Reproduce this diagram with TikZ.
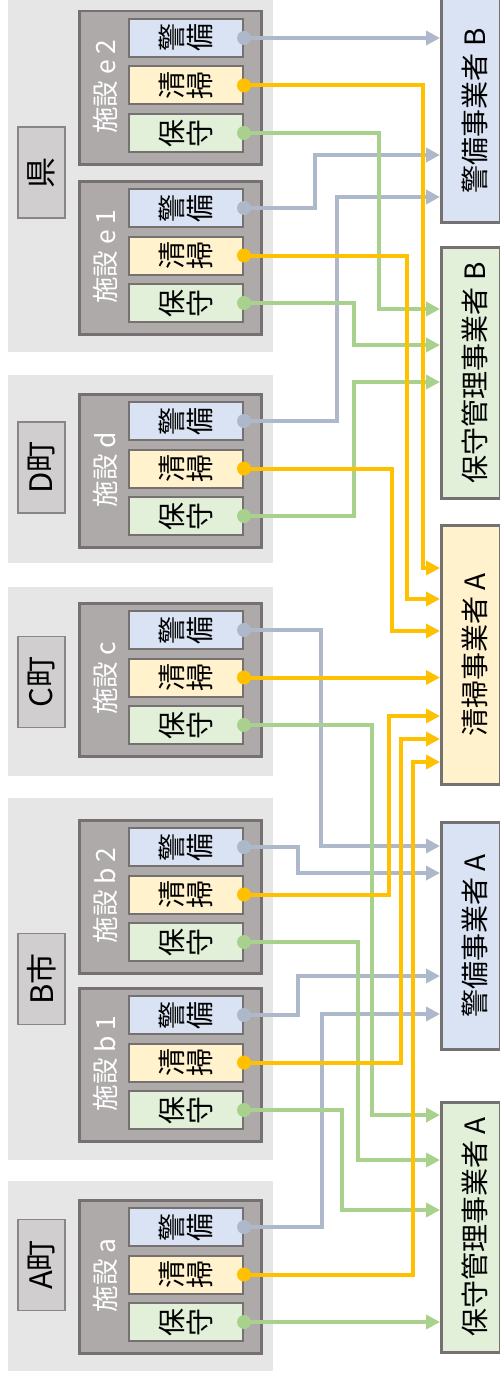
\documentclass[tikz,border=0pt]{standalone}
\usepackage{fontspec}
\setmainfont{Noto Sans CJK JP}
\usepackage{graphicx}
\usetikzlibrary{arrows.meta}
\definecolor{bgG}{HTML}{E7E6E6}
\definecolor{lblG}{HTML}{D0CECE}
\definecolor{facG}{HTML}{AEAAAA}
\definecolor{bordG}{HTML}{767171}
\definecolor{kFill}{HTML}{DAE3F3}
\definecolor{sFill}{HTML}{FFF2CC}
\definecolor{mFill}{HTML}{E2F0D9}
\definecolor{kLine}{HTML}{ADB9CA}
\definecolor{sLine}{HTML}{FFC000}
\definecolor{mLine}{HTML}{A9D18E}
\newcommand\rt[1]{\rotatebox{90}{#1}}
\newcommand\rtt[2]{\rotatebox{90}{\vbox{\baselineskip=28pt\lineskiplimit=-50pt\lineskip=0pt\hbox{#1}\hbox{#2}}}}
\begin{document}
\begin{tikzpicture}[x={(1pt,0)},y={(0,-1pt)},
  grp/.style={fill=bgG,draw=none,inner sep=0,minimum width=265pt,anchor=north west},
  grplbl/.style={draw=bordG!85,fill=lblG,line width=1.8pt,minimum width=47pt,minimum height=91pt,inner sep=0,font=\fontsize{31}{31}\selectfont},
  facbox/.style={draw=bordG,fill=facG,line width=2.5pt,minimum width=182pt,minimum height=153pt,inner sep=0},
  faclbl/.style={text=white,inner sep=0,font=\fontsize{26.5}{26.5}\selectfont},
  svc/.style={draw=bordG,line width=2pt,minimum width=114pt,minimum height=38pt,inner sep=0,font=\fontsize{28}{28}\selectfont},
  prov/.style={draw=bordG,line width=2.5pt,minimum width=59pt,inner sep=0,anchor=north west,font=\fontsize{28}{28}\selectfont},
  arr/.style={line width=4pt,-{Triangle[length=14pt,width=14pt]}},
  kl/.style={arr,draw=kLine},
  sl/.style={arr,draw=sLine},
  ml/.style={arr,draw=mLine}]
\useasboundingbox (0,0) rectangle (500,1378);
\fill[white] (0,0) rectangle (500,1378);
\newcommand\fac[3]{%
 \node[facbox,anchor=north west] (f#1) at (78,#2) {};
 \node[faclbl] (f#1t) at (105,#2+76.5) {\rt{#3}};
 \node[svc,fill=kFill] (#1K) at (186,#2+28) {\rtt{警}{備}};
 \node[svc,fill=sFill] (#1S) at (186,#2+75.5) {\rtt{清}{掃}};
 \node[svc,fill=mFill] (#1M) at (186,#2+123) {\rtt{保}{守}};}
\newcommand\conn[5]{\draw[#1] (#2.east) -| (#3,#4) -- (#5.west |- 0,#4);}
\newcommand\dotat[2]{\fill[#1] (#2.east) circle (7pt);}
\newcommand\pt[1]{\hspace*{8pt}\rt{#1}}
% group backgrounds
\node[grp,minimum height=357pt] (gK) at (8,-5) {};
\node[grp,minimum height=188pt] (gD) at (8,375) {};
\node[grp,minimum height=189pt] (gC) at (8,587) {};
\node[grp,minimum height=362pt] (gB) at (8,798) {};
\node[grp,minimum height=190pt] (gA) at (8,1181) {};
% group labels
\node[grplbl] (lK) at (41.5,172.5) {\rt{県}};
\node[grplbl] (lD) at (41.5,467.5) {\rt{D町}};
\node[grplbl] (lC) at (41.5,682) {\rt{C町}};
\node[grplbl] (lB) at (41.5,979) {\rt{B市}};
\node[grplbl] (lA) at (41.5,1265) {\rt{A町}};
% facilities
\fac{e2}{10}{施設 e 2}
\fac{e1}{180}{施設 e 1}
\fac{d}{393}{施設 d}
\fac{c}{602}{施設 c}
\fac{b2}{819}{施設 b 2}
\fac{b1}{987}{施設 b 1}
\fac{a}{1199}{施設 a}
% providers
\node[prov,fill=kFill,minimum height=223pt] (pKB) at (440,-2) {\pt{警備事業者 B}};
\node[prov,fill=mFill,minimum height=251pt] (pMB) at (440,246) {\pt{保守管理事業者 B}};
\node[prov,fill=sFill,minimum height=259pt] (pSA) at (440,524) {\pt{清掃事業者 A}};
\node[prov,fill=kFill,minimum height=227pt] (pKA) at (440,821) {\pt{警備事業者 A}};
\node[prov,fill=mFill,minimum height=250pt] (pMA) at (440,1101) {\pt{保守管理事業者 A}};
% security connectors
\draw[kl] (e2K.east) -- (pKB.west |- e2K.east);
\conn{kl}{e1K}{315}{155}{pKB}
\conn{kl}{dK}{337}{197}{pKB}
\conn{kl}{cK}{321}{846}{pKA}
\conn{kl}{b2K}{298}{873}{pKA}
\conn{kl}{b1K}{298}{976}{pKA}
\conn{kl}{aK}{322}{1014}{pKA}
% maintenance connectors
\conn{ml}{e2M}{379}{309}{pMB}
\conn{ml}{e1M}{354}{345}{pMB}
\conn{ml}{dM}{354}{382}{pMB}
\conn{ml}{cM}{372}{1115}{pMA}
\conn{ml}{b2M}{358}{1160}{pMA}
\conn{ml}{b1M}{342}{1210}{pMA}
\draw[ml] (aM.east) -- (pMA.west |- aM.east);
% cleaning connectors
\conn{sl}{e2S}{423}{568}{pSA}
\conn{sl}{e1S}{407}{599}{pSA}
\conn{sl}{dS}{392}{631}{pSA}
\draw[sl] (cS.east) -- (pSA.west |- cS.east);
\conn{sl}{b2S}{389}{716}{pSA}
\conn{sl}{b1S}{401}{739}{pSA}
\conn{sl}{aS}{413}{762}{pSA}
% dots
\foreach \f in {e2,e1,d,c,b2,b1,a}{
 \dotat{kLine}{\f K}
 \dotat{sLine}{\f S}
 \dotat{mLine}{\f M}}
\end{tikzpicture}
\end{document}
